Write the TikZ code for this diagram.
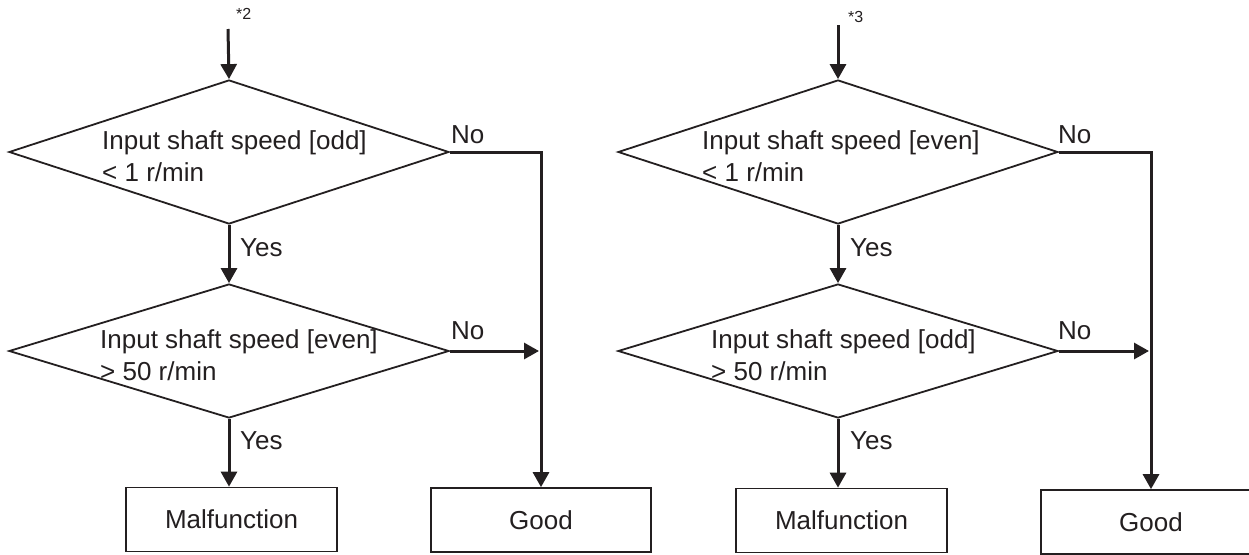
\documentclass[tikz,border=0pt]{standalone}
\usepackage{fontspec}
\setmainfont{Liberation Sans}
\usetikzlibrary{shapes.geometric,arrows.meta}
\definecolor{ink}{HTML}{231F20}
\begin{document}
\begin{tikzpicture}[x=1pt,y=-1pt,
  every node/.style={text=ink},
  decision/.style={diamond, draw=ink, line width=1.8pt, inner sep=0pt,
    minimum width=440pt},
  cond/.style={font=\fontsize{26}{32}\selectfont, align=left, inner sep=0pt,
    anchor=base west},
  result/.style={rectangle, draw=ink, line width=1.7pt, inner sep=0pt,
    minimum height=64pt, font=\fontsize{26}{30}\selectfont},
  lbl/.style={font=\fontsize{26}{30}\selectfont, inner sep=0pt, anchor=base west},
  note/.style={font=\fontsize{16}{18}\selectfont, inner sep=0pt, anchor=base west},
  flow/.style={draw=ink, line width=3pt, -{Triangle[length=15pt,width=16pt]}}]
\path[use as bounding box, clip] (0,0) rectangle (1249,554);

% ---- left chart ----
\coordinate (sL) at (228,29);
\node[note] (nL) at (236,19) {*2};
\node[decision, minimum height=144pt] (aL) at (229,152) {};
\node[cond, xshift=-127pt, yshift=-29pt] (aLt) at (aL.center)
  {Input shaft speed [odd]\\< 1 r/min};
\node[decision, minimum height=134pt] (bL) at (229,351) {};
\node[cond, xshift=-129pt, yshift=-29pt] (bLt) at (bL.center)
  {Input shaft speed [even]\\> 50 r/min};
\node[result, minimum width=211pt] (mL) at (231.5,519.5) {Malfunction};
\node[result, minimum width=220pt] (gL) at (541,520) {Good};

\draw[flow] (sL) -- (aL.north);
\draw[flow] (aL.south) -- (bL.north);
\draw[flow] (bL.south) -- (bL.south |- mL.north);
\draw[flow] (aL.east) -| (gL.north);
\draw[flow, shorten >=2pt] (bL.east) -- (bL.east -| gL.north);
\node[lbl] (noL1) at (451,143) {No};
\node[lbl] (noL2) at (451,339) {No};
\node[lbl] (yesL1) at (240,256) {Yes};
\node[lbl] (yesL2) at (240,449) {Yes};

% ---- right chart ----
\coordinate (sR) at (838,25);
\node[note] (nR) at (848,23) {*3};
\node[decision, minimum height=144pt] (aR) at (838,152) {};
\node[cond, xshift=-136pt, yshift=-29pt] (aRt) at (aR.center)
  {Input shaft speed [even]\\< 1 r/min};
\node[decision, minimum height=134pt] (bR) at (838,351) {};
\node[cond, xshift=-127pt, yshift=-29pt] (bRt) at (bR.center)
  {Input shaft speed [odd]\\> 50 r/min};
\node[result, minimum width=211pt] (mR) at (841.5,520.5) {Malfunction};
\node[result, minimum width=220pt] (gR) at (1151,522) {Good};

\draw[flow] (sR) -- (aR.north);
\draw[flow] (aR.south) -- (bR.north);
\draw[flow] (bR.south) -- (bR.south |- mR.north);
\draw[flow] (aR.east) -| (gR.north);
\draw[flow, shorten >=2pt] (bR.east) -- (bR.east -| gR.north);
\node[lbl] (noR1) at (1058,143) {No};
\node[lbl] (noR2) at (1058,339) {No};
\node[lbl] (yesR1) at (850,256) {Yes};
\node[lbl] (yesR2) at (850,449) {Yes};
\end{tikzpicture}
\end{document}
